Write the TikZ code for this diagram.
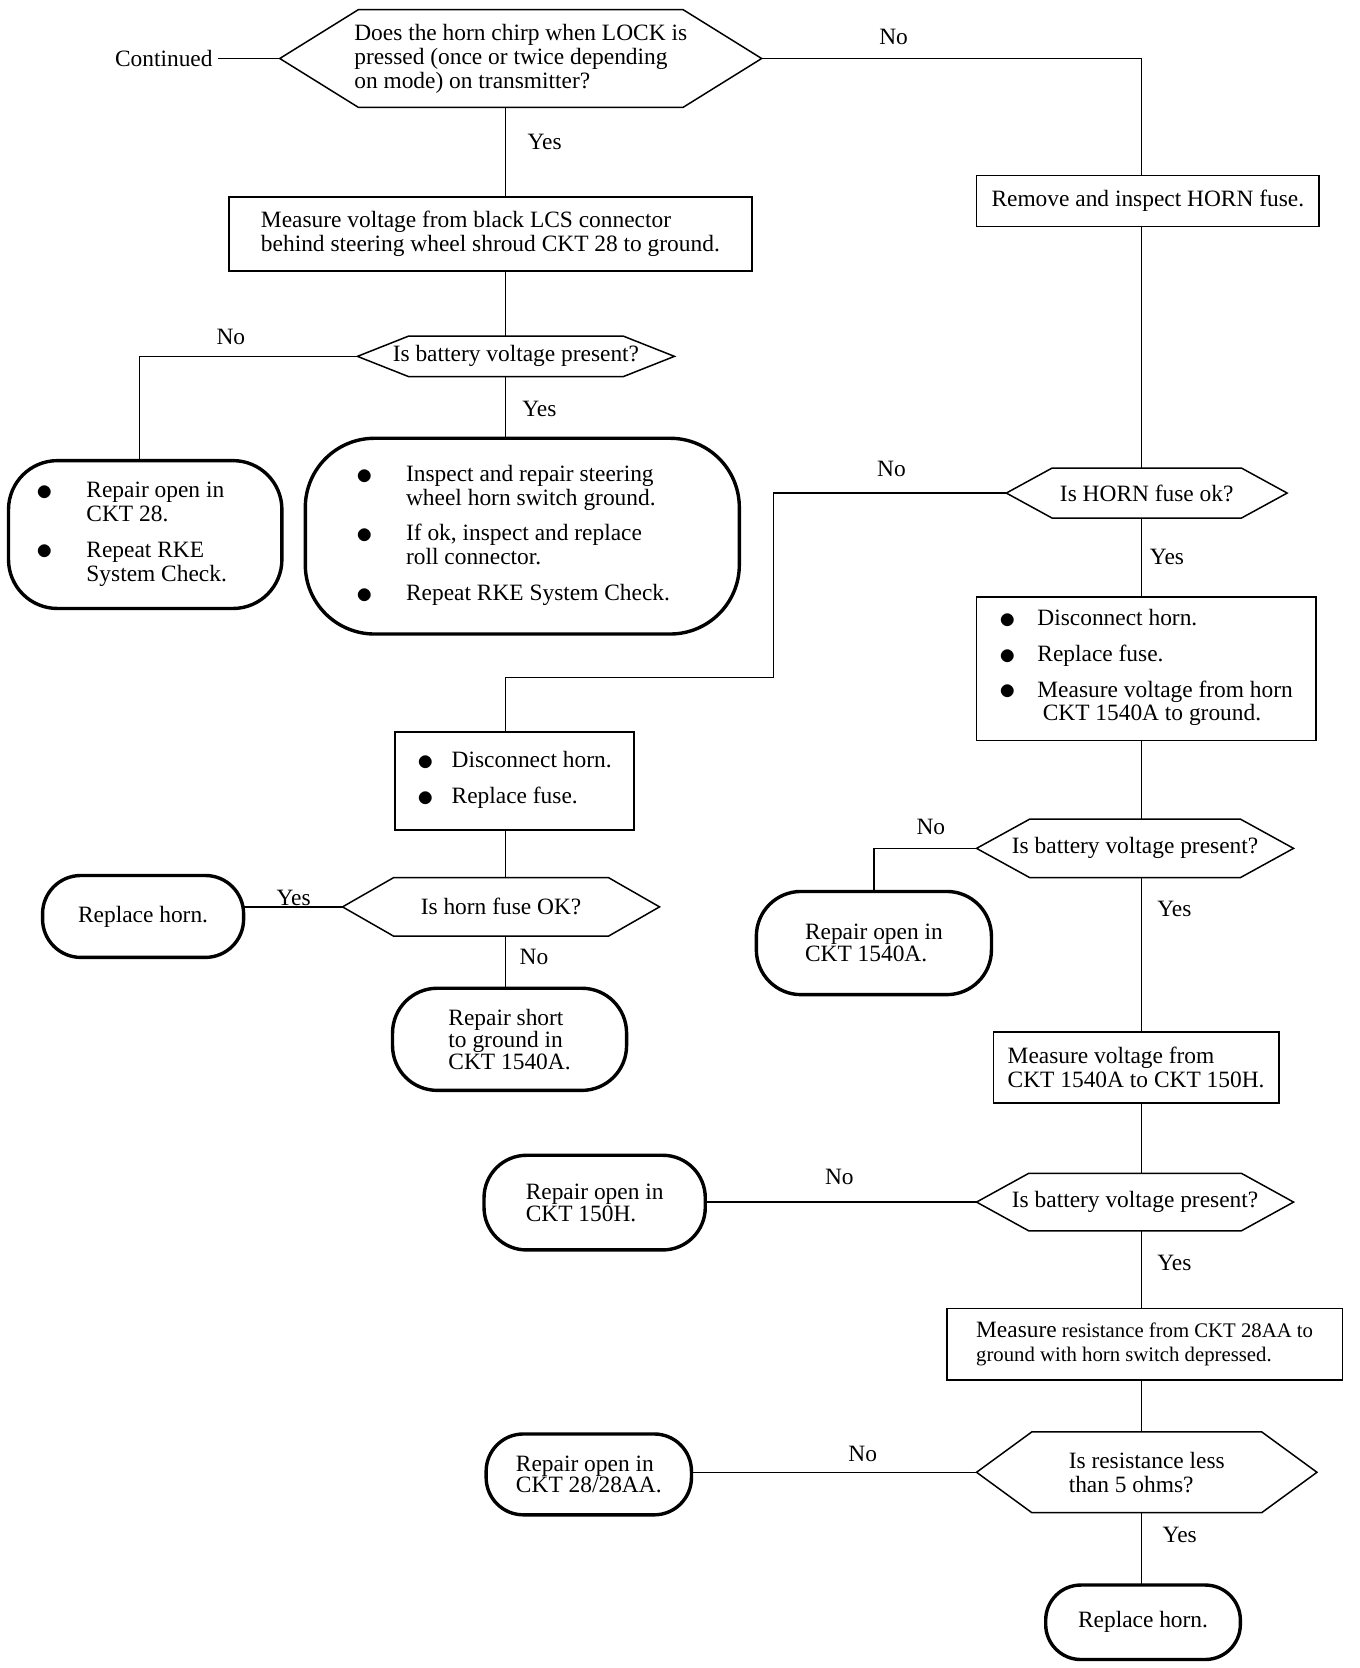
\documentclass[tikz,border=0pt]{standalone}
\usepackage{fontspec}
\usepackage{graphicx}
\setmainfont{Liberation Serif}
\usetikzlibrary{calc}
\newcommand{\hexdraw}[2]{\draw[hexline] ($(#1.north west)+(#2,0)$) -- ($(#1.north east)+(-#2,0)$) -- (#1.east) -- ($(#1.south east)+(-#2,0)$) -- ($(#1.south west)+(#2,0)$) -- (#1.west) -- cycle;}
\newcommand{\bul}{\raisebox{-2.5pt}{\scalebox{1.5}{$\bullet$}}}
\begin{document}
\begin{tikzpicture}[x=1pt,y=-1pt,font=\fontsize{22}{22.5}\selectfont,
  conn/.style={line width=1.3pt},
  box/.style={draw,line width=1.6pt,inner sep=0pt,outer sep=0pt,align=left},
  rbox/.style={draw,line width=3.2pt,inner sep=0pt,outer sep=0pt,align=left,font=\fontsize{22}{20.5}\selectfont},
  hexn/.style={inner sep=0pt,outer sep=0pt,align=left},
  hexline/.style={line width=1.4pt,line join=miter},
  lbl/.style={inner sep=0pt}]
\fill[white] (0,0) rectangle (1278,1568);
\useasboundingbox (0,0) rectangle (1278,1568);
\coordinate (colL) at (475,0);
\coordinate (colR) at (1073,0);
\coordinate (j1) at (727,637);

% top decision
\node[hexn,minimum width=453pt,minimum height=92pt] (h1) at (489.5,55) {Does the horn chirp when LOCK is\\pressed (once or twice depending\\on mode) on transmitter?};
\hexdraw{h1}{74}
\node[lbl,inner sep=5pt] (cont) at (154,55) {Continued};

% left column
\node[box,minimum width=492pt,minimum height=70pt] (b1) at (461,220) {Measure voltage from black LCS connector\\behind steering wheel shroud CKT 28 to ground.};
\node[hexn,minimum width=298pt,minimum height=38pt] (h2) at (485,335) {Is battery voltage present?};
\hexdraw{h2}{48}
\coordinate (r1top) at (131,433);
\node[rbox,minimum width=257pt,minimum height=139pt,rounded corners=46pt,font=\fontsize{22}{22.5}\selectfont] (r1) at (136.5,502.5) {\hspace*{-25pt}\begin{tabular}{@{}c@{\hspace{31pt}}l@{}}\bul & Repair open in\\ & CKT 28.\\[11pt] \bul & Repeat RKE\\ & System Check.\end{tabular}};
\node[rbox,minimum width=408pt,minimum height=184pt,rounded corners=65pt,font=\fontsize{22}{22.5}\selectfont] (r2) at (491,504) {\hspace*{-17pt}\begin{tabular}{@{}c@{\hspace{31pt}}l@{}}\bul & Inspect and repair steering\\ & wheel horn switch ground.\\[11pt] \bul & If ok, inspect and replace\\ & roll connector.\\[11pt] \bul & Repeat RKE System Check.\end{tabular}};

\node[box,minimum width=225pt,minimum height=92pt] (b3) at (483.5,734) {\begin{tabular}{@{}c@{\hspace{17pt}}l@{}}\bul & Disconnect horn.\\[11pt] \bul & Replace fuse.\end{tabular}};
\node[hexn,minimum width=298pt,minimum height=55pt] (h7) at (471,852.5) {Is horn fuse OK?};
\hexdraw{h7}{48}
\node[rbox,minimum width=189pt,minimum height=77pt,rounded corners=36pt] (r7) at (134.5,861.5) {Replace horn.};
\node[rbox,minimum width=220pt,minimum height=96pt,rounded corners=42pt] (r8) at (479,977) {Repair short\\to ground in\\CKT 1540A.};

% right column
\node[box,minimum width=322pt,minimum height=48pt] (b2) at (1079,189) {Remove and inspect HORN fuse.};
\node[hexn,minimum width=264pt,minimum height=47pt] (h3) at (1078,463.5) {Is HORN fuse ok?};
\hexdraw{h3}{43}
\node[box,minimum width=319pt,minimum height=135pt] (b4) at (1077.5,628.5) {\begin{tabular}{@{}c@{\hspace{20pt}}l@{}}\bul & Disconnect horn.\\[11pt] \bul & Replace fuse.\\[11pt] \bul & Measure voltage from horn\\ & \hspace*{5pt}CKT 1540A to ground.\end{tabular}};
\node[hexn,minimum width=298pt,minimum height=55pt] (h4) at (1067,797.5) {Is battery voltage present?};
\hexdraw{h4}{50}
\node[rbox,minimum width=221pt,minimum height=97pt,rounded corners=42pt] (r3) at (821.5,886.5) {Repair open in\\CKT 1540A.};
\node[box,minimum width=268pt,minimum height=67pt] (b5) at (1068,1003.5) {Measure voltage from\\CKT 1540A to CKT 150H.};
\node[hexn,minimum width=298pt,minimum height=54pt] (h5) at (1067,1130) {Is battery voltage present?};
\hexdraw{h5}{49}
\node[rbox,minimum width=208pt,minimum height=89pt,rounded corners=40pt] (r4) at (559,1130.5) {Repair open in\\CKT 150H.};
\node[box,minimum width=372pt,minimum height=67pt,font=\fontsize{19.5}{23}\selectfont] (b6) at (1076,1263.5) {{\fontsize{22}{23}\selectfont Measure} resistance from CKT 28AA to\\ground with horn switch depressed.};
\node[hexn,minimum width=320pt,minimum height=76pt] (h6) at (1078,1384) {Is resistance less\\than 5 ohms?};
\hexdraw{h6}{52}
\node[rbox,minimum width=193pt,minimum height=76pt,rounded corners=35pt] (r5) at (553.5,1386) {Repair open in\\CKT 28/28AA.};
\node[rbox,minimum width=183pt,minimum height=70pt,rounded corners=33pt] (r6) at (1074.5,1525) {Replace horn.};

% connectors
\draw[conn] (cont.east) -- (h1.west);
\draw[conn] (h1.east) -| (b2.north -| colR);
\draw[conn] (h1.south -| colL) -- (b1.north -| colL);
\draw[conn] (b1.south -| colL) -- (h2.north -| colL);
\draw[conn] (h2.west) -| (r1top);
\draw[conn] (h2.south -| colL) -- (r2.north -| colL);
\draw[conn] (b2.south -| colR) -- (h3.north -| colR);
\draw[conn] (h3.west) -| (j1) -| (b3.north -| colL);
\draw[conn] (h3.south -| colR) -- (b4.north -| colR);
\draw[conn] (b4.south -| colR) -- (h4.north -| colR);
\draw[conn] (h4.west) -| (r3.north);
\draw[conn] (h4.south -| colR) -- (b5.north -| colR);
\draw[conn] (b5.south -| colR) -- (h5.north -| colR);
\draw[conn] (h5.west) -- (h5.west -| r4.east);
\draw[conn] (h5.south -| colR) -- (b6.north -| colR);
\draw[conn] (b6.south -| colR) -- (h6.north -| colR);
\draw[conn] (h6.west) -- (h6.west -| r5.east);
\draw[conn] (h6.south -| colR) -- (r6.north -| colR);
\draw[conn] (b3.south -| colL) -- (h7.north -| colL);
\draw[conn] (h7.west) -- (h7.west -| r7.east);
\draw[conn] (h7.south -| colL) -- (r8.north -| colL);

% labels
\node[lbl] (l1) at (840,35) {No};
\node[lbl] (l2) at (512,133) {Yes};
\node[lbl] (l3) at (217,317) {No};
\node[lbl] (l4) at (507,384) {Yes};
\node[lbl] (l5) at (838,441) {No};
\node[lbl] (l6) at (1097,524) {Yes};
\node[lbl] (l7) at (875,777) {No};
\node[lbl] (l8) at (1104,854) {Yes};
\node[lbl] (l9) at (276,844) {Yes};
\node[lbl] (l10) at (502,900) {No};
\node[lbl] (l11) at (789,1106) {No};
\node[lbl] (l12) at (1104,1187) {Yes};
\node[lbl] (l13) at (811,1367) {No};
\node[lbl] (l14) at (1109,1443) {Yes};
\end{tikzpicture}
\end{document}
